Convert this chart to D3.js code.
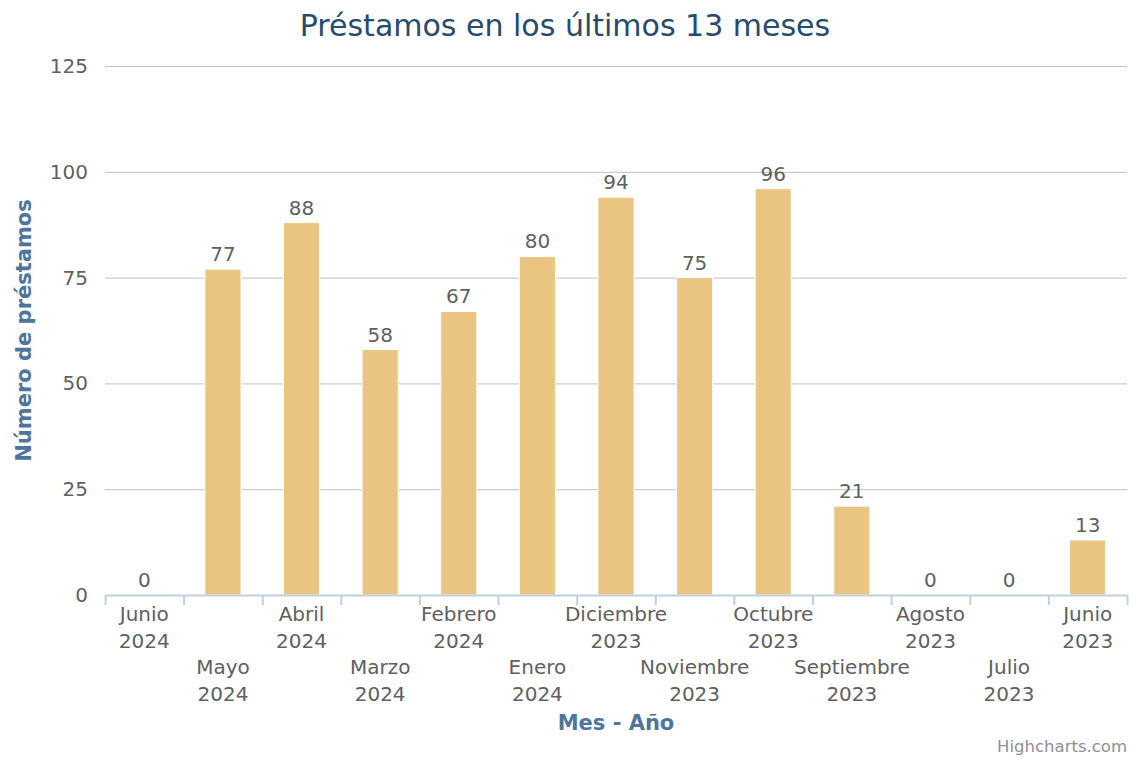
<!DOCTYPE html>
<html>
<head>
<meta charset="utf-8">
<script src="https://cdn.jsdelivr.net/npm/d3@7"></script>
<style>
  body { margin: 0; background: #fff; }
  svg { font-family: "DejaVu Sans", Verdana, sans-serif; }
</style>
</head>
<body>
<script>
// months shown, newest first (as in the source chart)
const months = ['Junio', 'Mayo', 'Abril', 'Marzo', 'Febrero', 'Enero', 'Diciembre',
  'Noviembre', 'Octubre', 'Septiembre', 'Agosto', 'Julio', 'Junio'];
const years = ['2024', '2024', '2024', '2024', '2024', '2024', '2023',
  '2023', '2023', '2023', '2023', '2023', '2023'];
const loans = [0, 77, 88, 58, 67, 80, 94, 75, 96, 21, 0, 0, 13];
const yTicks = [0, 25, 50, 75, 100, 125];

const width = 1130, height = 758;
const margin = { top: 66, right: 3, bottom: 163, left: 105 };

const svg = d3.select('body').append('svg')
  .attr('width', width)
  .attr('height', height);

const x = d3.scaleBand()
  .domain(d3.range(loans.length))
  .range([margin.left, width - margin.right]);

const y = d3.scaleLinear()
  .domain([0, 125])
  .range([height - margin.bottom, margin.top]);

// grid lines
svg.append('g')
  .selectAll('line')
  .data(yTicks)
  .enter().append('line')
  .attr('x1', margin.left)
  .attr('x2', width - margin.right)
  .attr('y1', d => y(d) + 0.5)
  .attr('y2', d => y(d) + 0.5)
  .attr('stroke', '#c0c0c0')
  .attr('stroke-width', 1);

// y axis labels
svg.append('g')
  .selectAll('text')
  .data(yTicks)
  .enter().append('text')
  .attr('x', margin.left - 17)
  .attr('y', d => y(d) + 7)
  .attr('text-anchor', 'end')
  .attr('fill', '#606060')
  .attr('font-size', 20)
  .text(d => d);

// bars
const barW = x.bandwidth() * 0.46;
svg.append('g')
  .selectAll('rect')
  .data(loans)
  .enter().append('rect')
  .attr('x', (d, i) => x(i) + (x.bandwidth() - barW) / 2)
  .attr('y', d => y(d))
  .attr('width', barW)
  .attr('height', d => y(0) - y(d))
  .attr('fill', '#eac582')
  .attr('stroke', '#fff')
  .attr('stroke-width', 1);

// data labels
svg.append('g')
  .selectAll('text')
  .data(loans)
  .enter().append('text')
  .attr('x', (d, i) => x(i) + x.bandwidth() / 2)
  .attr('y', d => y(d) - 8)
  .attr('text-anchor', 'middle')
  .attr('fill', '#606060')
  .attr('font-size', 20)
  .text(d => d);

// x axis line and ticks
const xAxis = svg.append('g');
xAxis.append('line')
  .attr('x1', margin.left)
  .attr('x2', width - margin.right)
  .attr('y1', y(0) + 0.5)
  .attr('y2', y(0) + 0.5)
  .attr('stroke', '#c0d0e0')
  .attr('stroke-width', 2);
xAxis.selectAll('.tick')
  .data(d3.range(loans.length + 1))
  .enter().append('line')
  .attr('x1', i => (i < loans.length ? x(i) : x.range()[1]) + 0.5)
  .attr('x2', i => (i < loans.length ? x(i) : x.range()[1]) + 0.5)
  .attr('y1', y(0))
  .attr('y2', y(0) + 10)
  .attr('stroke', '#c0d0e0')
  .attr('stroke-width', 2);

// staggered category labels
const lbl = xAxis.selectAll('.lbl')
  .data(months)
  .enter().append('text')
  .attr('text-anchor', 'middle')
  .attr('fill', '#606060')
  .attr('font-size', 20)
  .attr('transform', (d, i) => `translate(${x(i) + x.bandwidth() / 2},${i % 2 === 0 ? 621 : 674})`);
lbl.append('tspan').attr('x', 0).attr('y', 0).text(d => d);
lbl.append('tspan').attr('x', 0).attr('y', 26.5).text((d, i) => years[i]);

// titles
svg.append('text')
  .attr('x', width / 2)
  .attr('y', 36)
  .attr('text-anchor', 'middle')
  .attr('fill', '#274b6d')
  .attr('font-size', 30)
  .text('Préstamos en los últimos 13 meses');

svg.append('text')
  .attr('x', (margin.left + width - margin.right) / 2)
  .attr('y', 730)
  .attr('text-anchor', 'middle')
  .attr('fill', '#4d759e')
  .attr('font-size', 21)
  .attr('font-weight', 'bold')
  .text('Mes - Año');

svg.append('text')
  .attr('transform', `translate(31,${(margin.top + y(0)) / 2}) rotate(-90)`)
  .attr('text-anchor', 'middle')
  .attr('fill', '#4d759e')
  .attr('font-size', 21)
  .attr('font-weight', 'bold')
  .text('Número de préstamos');

// credits
svg.append('text')
  .attr('x', width - 3)
  .attr('y', 752)
  .attr('text-anchor', 'end')
  .attr('fill', '#909090')
  .attr('font-size', 16.5)
  .text('Highcharts.com');
</script>
</body>
</html>
